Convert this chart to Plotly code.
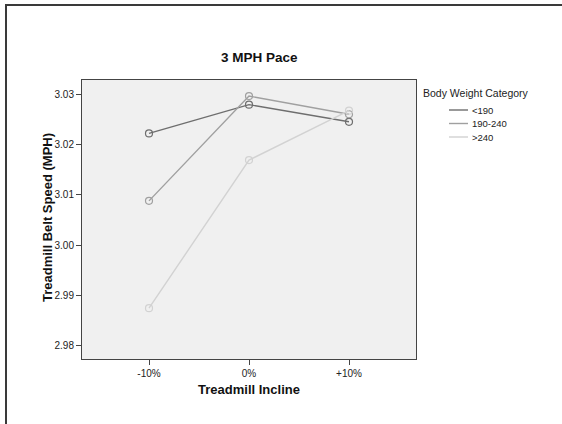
import plotly.graph_objects as go

# ---- data ----
inclines = ["-10%", "0%", "+10%"]
categories = ["<190", "190-240", ">240"]
speed_lt190 = [3.0222, 3.0279, 3.0245]
speed_190_240 = [3.0088, 3.0296, 3.0260]
speed_gt240 = [2.9875, 3.0169, 3.0267]
series_values = [speed_lt190, speed_190_240, speed_gt240]
y_ticks = [2.98, 2.99, 3.00, 3.01, 3.02, 3.03]
y_tick_labels = ["2.98", "2.99", "3.00", "3.01", "3.02", "3.03"]

colors = ["#6e6e6e", "#a0a0a0", "#d2d2d2"]
FONT = "Liberation Sans, Arial, sans-serif"

W, H = 562, 424
L, R, T, B = 82, 416, 80, 359  # plot area in pixels


def px(x):
    return (x - L) / (R - L)


def py(y):
    return (B - y) / (B - T)


fig = go.Figure()
for name, vals, col in zip(categories, series_values, colors):
    fig.add_trace(go.Scatter(
        x=list(range(len(inclines))), y=vals, name=name, mode="lines+markers",
        line=dict(color=col, width=1.4),
        marker=dict(symbol="circle-open", size=7, color=col, line=dict(width=1.2, color=col)),
        showlegend=False, hoverinfo="x+y",
    ))

shapes = [
    # outer frame (top and left)
    dict(type="line", xref="paper", yref="paper", x0=px(5), x1=px(W), y0=py(5), y1=py(5),
         line=dict(color="#3a3a3a", width=2)),
    dict(type="line", xref="paper", yref="paper", x0=px(6), x1=px(6), y0=py(4), y1=py(H),
         line=dict(color="#3a3a3a", width=2)),
]
annotations = [
    dict(text="<b>3 MPH Pace</b>", xref="paper", yref="paper", x=px(259), y=py(57),
         xanchor="center", yanchor="middle", showarrow=False,
         font=dict(family=FONT, size=13.5, color="#111")),
    dict(text="<b>Treadmill Belt Speed (MPH)</b>", xref="paper", yref="paper", x=px(47), y=py(218),
         xanchor="center", yanchor="middle", showarrow=False, textangle=-90,
         font=dict(family=FONT, size=13, color="#111")),
    dict(text="Body Weight Category", xref="paper", yref="paper", x=px(421), y=py(93),
         xanchor="left", yanchor="middle", showarrow=False,
         font=dict(family=FONT, size=10.5, color="#222")),
]
# manual legend
for i, (name, col) in enumerate(zip(categories, colors)):
    yy = 110 + i * 13.5
    shapes.append(dict(type="line", xref="paper", yref="paper", x0=px(449), x1=px(468),
                       y0=py(yy), y1=py(yy), line=dict(color=col, width=1.4)))
    annotations.append(dict(text=name, xref="paper", yref="paper", x=px(470), y=py(yy),
                            xanchor="left", yanchor="middle", showarrow=False,
                            font=dict(family=FONT, size=9.5, color="#222")))

fig.update_layout(
    width=W, height=H,
    margin=dict(l=L, r=W - R, t=T, b=H - B, pad=0),
    paper_bgcolor="white", plot_bgcolor="#f0f0f0",
    font=dict(family=FONT, size=10, color="#222"),
    shapes=shapes, annotations=annotations,
    showlegend=False,
)
fig.update_xaxes(
    range=[-0.67, 2.67], tickmode="array", tickvals=list(range(len(inclines))), ticktext=inclines,
    ticks="outside", ticklen=5, tickcolor="#444", tickwidth=1,
    showline=True, linecolor="#444", linewidth=1, mirror=True,
    showgrid=False, zeroline=False,
    tickfont=dict(family=FONT, size=10, color="#222"),
    title=dict(text="<b>Treadmill Incline</b>", font=dict(family=FONT, size=13, color="#111"), standoff=6),
)
fig.update_yaxes(
    range=[2.9774, 3.0328], tickmode="array", tickvals=y_ticks, ticktext=y_tick_labels,
    ticks="outside", ticklen=5, tickcolor="#444", tickwidth=1,
    showline=True, linecolor="#444", linewidth=1, mirror=True,
    showgrid=False, zeroline=False,
    tickfont=dict(family=FONT, size=10, color="#222"),
)

fig.write_html("out.html", config={"displayModeBar": False},
               post_script="document.body.style.margin='0';document.body.style.overflow='hidden';")
